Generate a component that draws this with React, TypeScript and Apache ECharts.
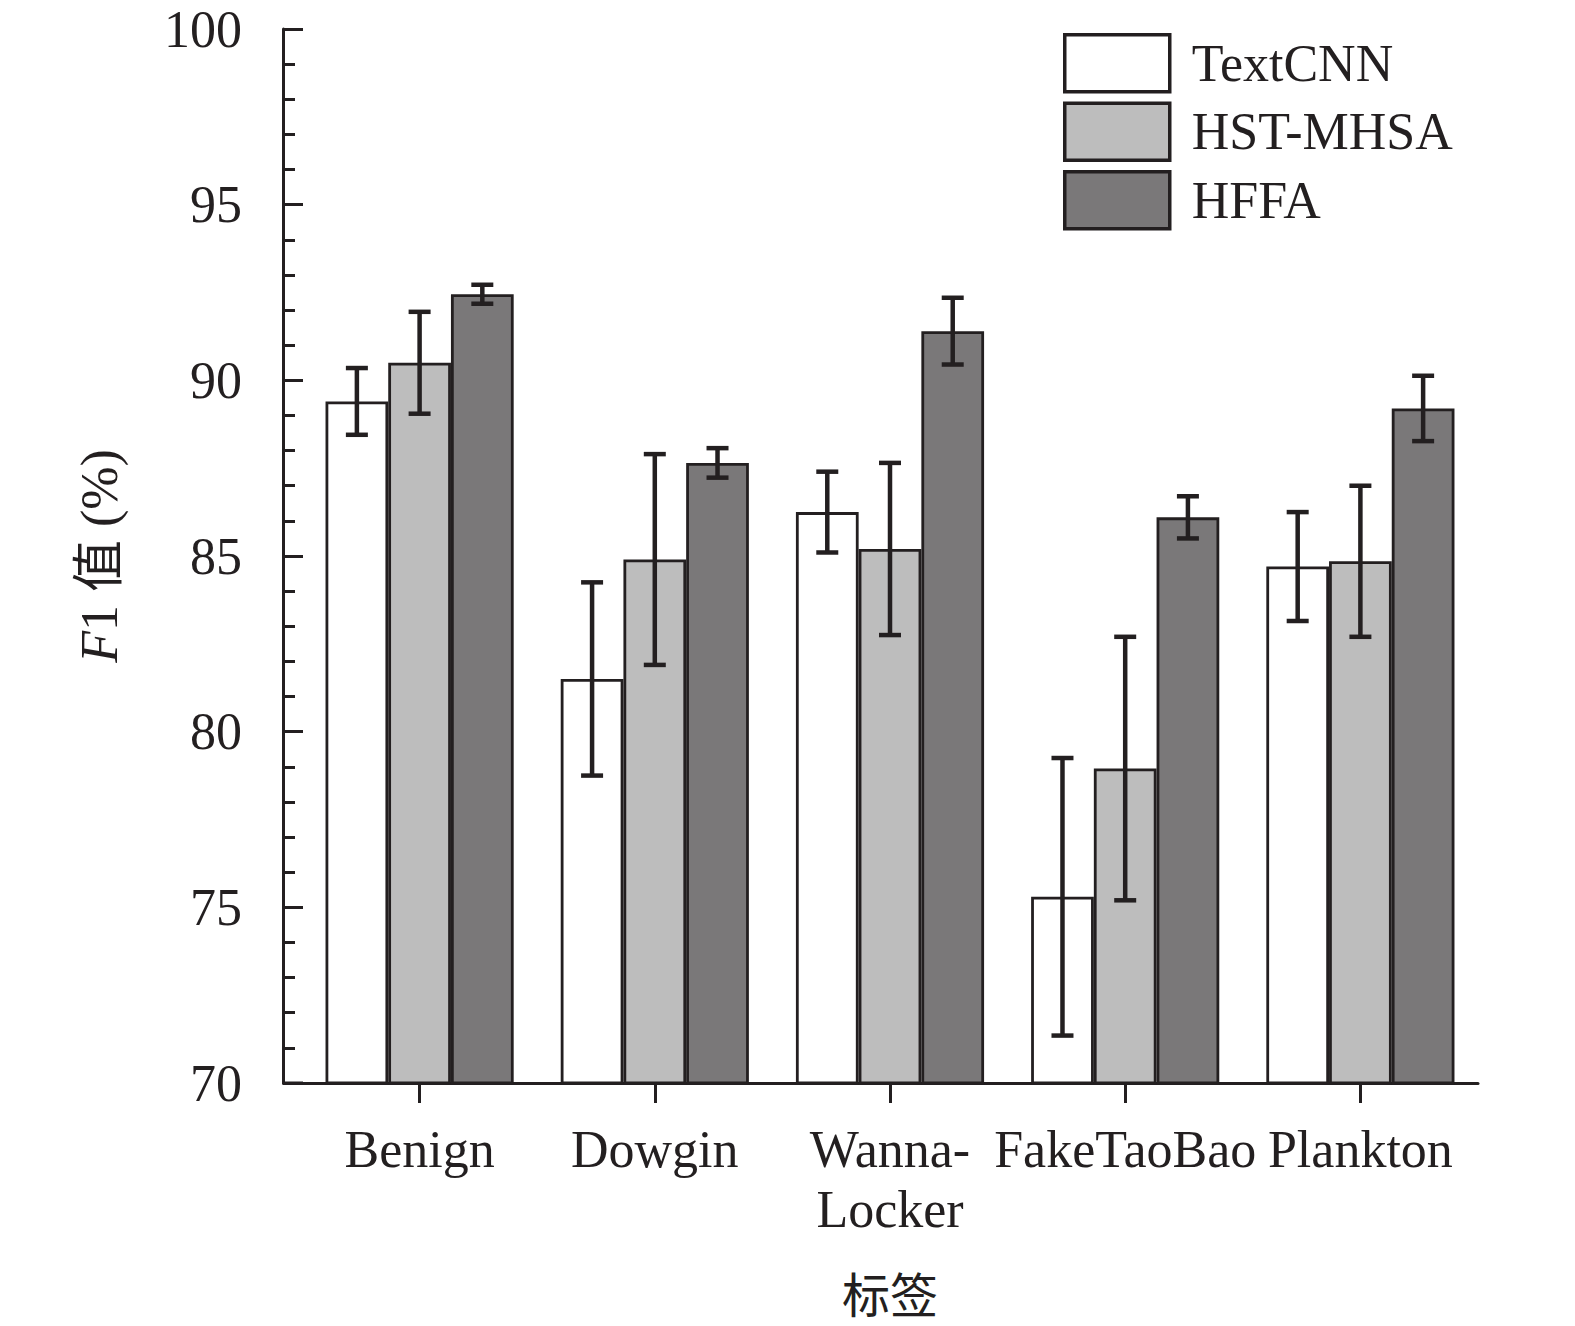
import React, { useEffect, useRef } from "react";
import * as echarts from "echarts";

const categories = ["Benign", "Dowgin", "Wanna-\nLocker", "FakeTaoBao", "Plankton"];
const seriesNames = ["TextCNN", "HST-MHSA", "HFFA"];
const textCnnValues = [89.4, 81.5, 86.25, 75.3, 84.7];
const hstMhsaValues = [90.5, 84.9, 85.2, 78.95, 84.85];
const hffaValues = [92.45, 87.65, 91.4, 86.1, 89.2];
const textCnnErrors = [0.95, 2.75, 1.15, 3.95, 1.55];
const hstMhsaErrors = [1.45, 3.0, 2.45, 3.75, 2.15];
const hffaErrors = [0.27, 0.42, 0.95, 0.6, 0.93];
const yTicks = [70, 75, 80, 85, 90, 95, 100];

const colors = ["#ffffff", "#bdbdbd", "#7a7879"];
const ink = "#231f20";
const serif = '"Liberation Serif", "Times New Roman", serif';

export default function App() {
  const ref = useRef<HTMLDivElement>(null);
  useEffect(() => {
    if (!ref.current) return;
    const chart = echarts.init(ref.current, undefined, { renderer: "svg" });
    const values = [textCnnValues, hstMhsaValues, hffaValues];
    const errors = [textCnnErrors, hstMhsaErrors, hffaErrors];
    const errData: number[][] = [];
    values.forEach((arr, s) => {
      arr.forEach((v, c) => {
        errData.push([c, v - errors[s][c], v + errors[s][c], s]);
      });
    });

    const barSeries = seriesNames.map((name, i) => ({
      name,
      type: "bar",
      data: values[i],
      barGap: "0%",
      barCategoryGap: "20%",
      itemStyle: { color: colors[i], borderColor: ink, borderWidth: 2.8 },
      z: 2,
    }));

    const option: any = {
      animation: false,
      backgroundColor: "#ffffff",
      grid: { left: 302, right: 97, top: 29, bottom: 243, containLabel: false },
      legend: {
        data: seriesNames,
        orient: "vertical",
        left: 1063,
        top: 33,
        padding: 0,
        itemWidth: 105,
        itemHeight: 57,
        itemGap: 8,
        icon: "rect",
        itemStyle: { borderColor: ink, borderWidth: 3.5 },
        textStyle: { fontFamily: serif, fontSize: 52, lineHeight: 57, color: ink, padding: [0, 0, 0, 17] },
      },
      xAxis: {
        type: "category",
        data: categories,
        name: "标签",
        nameLocation: "middle",
        nameGap: 184,
        nameTextStyle: {
          fontFamily: '"Noto Sans CJK SC", sans-serif',
          fontSize: 48,
          lineHeight: 50,
          color: ink,
        },
        axisLine: { show: true, lineStyle: { color: ink, width: 3 } },
        axisTick: { show: true, alignWithLabel: true, inside: false, length: 20, lineStyle: { color: ink, width: 3 } },
        axisLabel: {
          fontFamily: serif,
          fontSize: 52,
          color: ink,
          margin: 36,
          lineHeight: 60,
          interval: 0,
        },
        splitLine: { show: false },
      },
      yAxis: {
        type: "value",
        min: 70,
        max: 100,
        interval: 5,
        offset: 19,
        name: "{i|F}{n|1 值 (%)}",
        nameLocation: "middle",
        nameGap: 158,
        nameRotate: 90,
        nameTextStyle: {
          rich: {
            i: { fontFamily: serif, fontStyle: "italic", fontSize: 52, color: ink },
            n: { fontFamily: '"Liberation Serif", "Noto Sans CJK SC", serif', fontSize: 52, color: ink },
          },
        },
        axisLine: { show: true, lineStyle: { color: ink, width: 3 } },
        axisTick: { show: true, inside: true, length: 20, lineStyle: { color: ink, width: 3 } },
        minorTick: { show: true, splitNumber: 5, length: 12, lineStyle: { color: ink, width: 3 } },
        axisLabel: {
          fontFamily: serif,
          fontSize: 52,
          color: ink,
          margin: 41,
          formatter: (v: number) => (yTicks.includes(v) ? String(v) : ""),
        },
        splitLine: { show: false },
        minorSplitLine: { show: false },
      },
      graphic: [
        {
          type: "line",
          shape: { x1: 282, y1: 1083, x2: 303, y2: 1083 },
          style: { stroke: ink, lineWidth: 3 },
          z: 10,
        },
      ],
      series: [
        ...barSeries,
        {
          type: "custom",
          name: "err",
          data: errData,
          z: 5,
          encode: { x: 0, y: [1, 2] },
          renderItem: (params: any, api: any) => {
            const c = api.value(0);
            const lo = api.value(1);
            const hi = api.value(2);
            const s = api.value(3);
            const pHi = api.coord([c, hi]);
            const pLo = api.coord([c, lo]);
            const band = api.size([1, 0])[0];
            const bw = (band * 0.8) / 3;
            const x = pHi[0] + (s - 1) * bw;
            const half = 11;
            const style = { stroke: ink, lineWidth: 4.5 };
            return {
              type: "group",
              children: [
                { type: "line", shape: { x1: x, y1: pHi[1], x2: x, y2: pLo[1] }, style },
                { type: "line", shape: { x1: x - half, y1: pHi[1], x2: x + half, y2: pHi[1] }, style },
                { type: "line", shape: { x1: x - half, y1: pLo[1], x2: x + half, y2: pLo[1] }, style },
              ],
            };
          },
        },
      ],
    };
    chart.setOption(option);
    return () => chart.dispose();
  }, []);
  return (
    <div
      ref={ref}
      style={{ position: "absolute", left: 0, top: 0, width: 1575, height: 1326 }}
    />
  );
}
